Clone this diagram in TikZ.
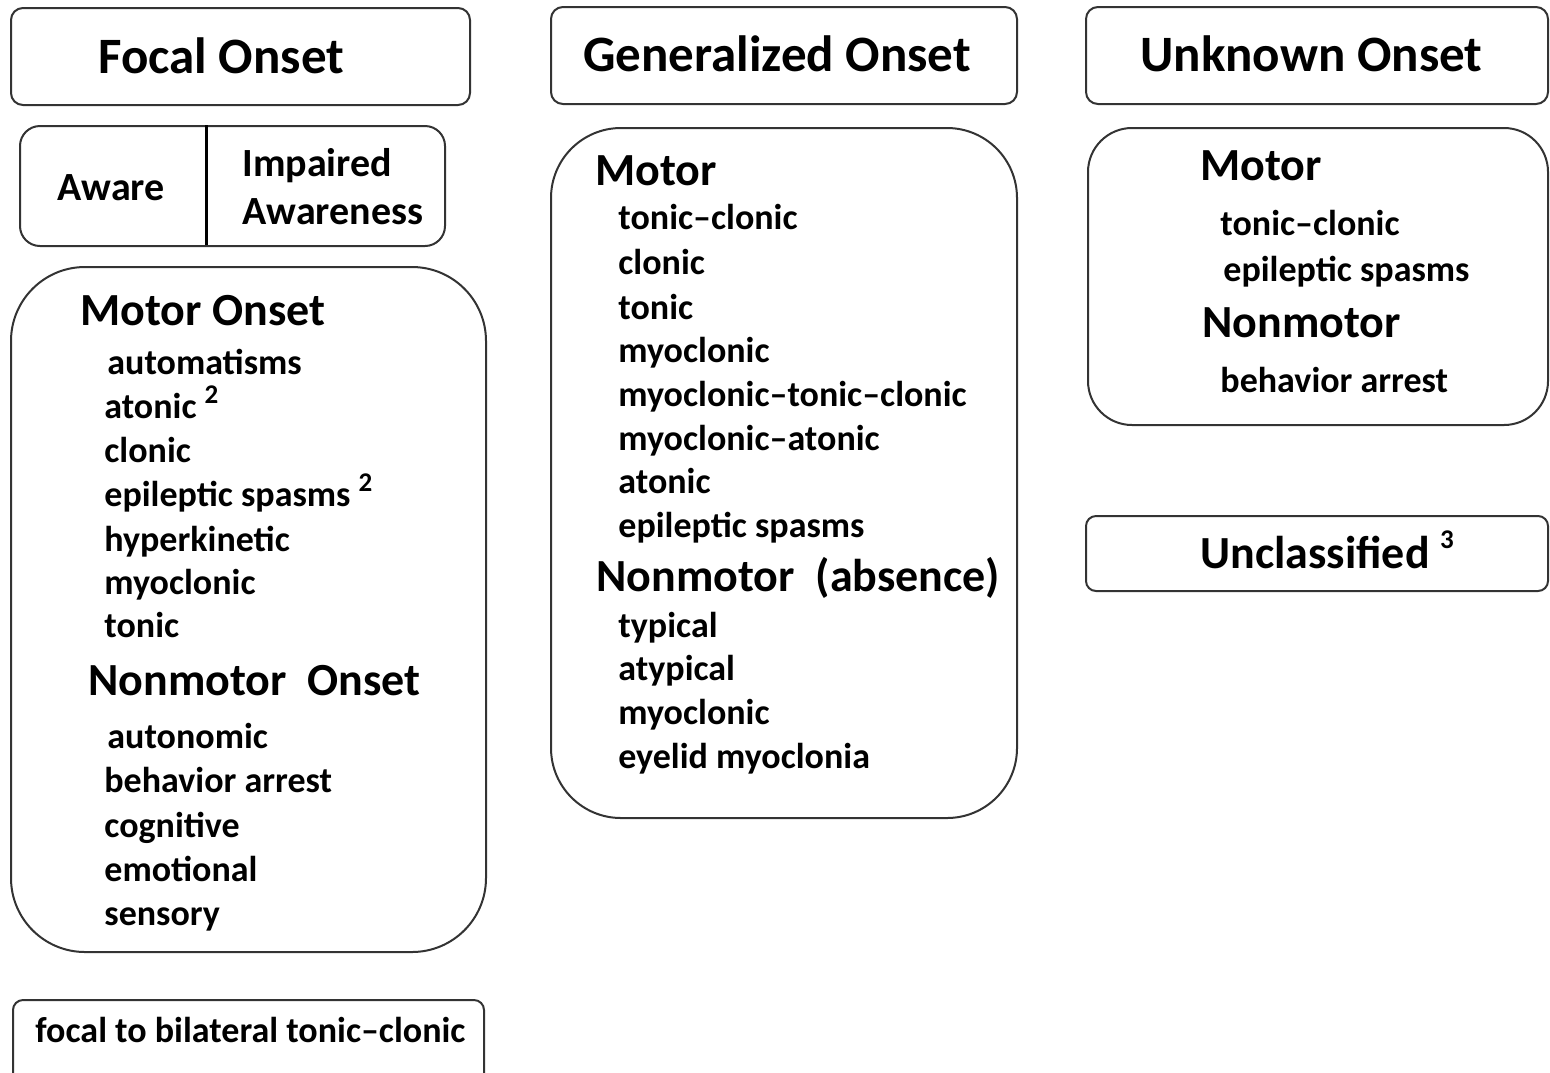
\documentclass[tikz,border=0pt]{standalone}
\usepackage{fontspec}
\setmainfont{Carlito}
\usetikzlibrary{fit,positioning}
\newcommand{\fnmark}[1]{\raisebox{0.42em}{\fontsize{13.5}{15}\selectfont #1}}
\tikzstyle{box} = [draw=black!80,
                  line width=1pt,
                  inner sep=0pt,
                  rounded corners=6pt]
\tikzstyle{head} = [anchor=west,
                   inner sep=0pt,
                   text height=16.5pt,
                   text depth=0pt,
                   font=\fontsize{25.5}{30}\selectfont\bfseries]
\tikzstyle{sub} = [head,
                  text height=15pt,
                  font=\fontsize{23}{27}\selectfont\bfseries]
\tikzstyle{aware} = [head,
                    text height=13pt,
                    font=\fontsize{20}{24}\selectfont\bfseries]
\tikzstyle{item} = [head,
                   text height=11.7pt,
                   font=\fontsize{18}{22}\selectfont\bfseries]
\tikzstyle{chart} = [x=0.5pt,
                    y=-0.5pt]

\begin{document}
\begin{tikzpicture}[chart]
    \useasboundingbox (0,0) rectangle (1550,1072);
    \clip (0,0) rectangle (1550,1072);
    % focal onset
    \node (fb) [box, fit={(11,8) (470,105)}] {};
    \node (ft) [head] at (98,57) {Focal Onset};
    \node (ab) [box, rounded corners=10pt, fit={(20,126) (445,246)}] {};
    \draw[line width=1.5pt] (ab.north west) ++(187,0) -- ++(0,120);
    \node (aw) [aware] at (57,187) {Aware};
    \node (ia) [aware] at (242,163) {Impaired};
    \node (ib) [aware] at (242,211) {Awareness};
    \node (mb) [box, rounded corners=37pt, fit={(11,267) (486,952)}] {};
    \node (m0) [sub] at (80,310) {Motor Onset};
    \node (m1) [item] at (107,363) {automatisms};
    \node (m2) [item] at (104,407) {atonic \fnmark{2}};
    \node (m3) [item] at (104,451) {clonic};
    \node (m4) [item] at (104,495) {epileptic spasms \fnmark{2}};
    \node (m5) [item] at (104,540) {hyperkinetic};
    \node (m6) [item] at (104,583) {myoclonic};
    \node (m7) [item] at (104,626) {tonic};
    \node (n0) [sub] at (88,680) {Nonmotor\ \ Onset};
    \node (n1) [item] at (107,737) {autonomic};
    \node (n2) [item] at (104,781) {behavior arrest};
    \node (n3) [item] at (104,826) {cognitive};
    \node (n4) [item] at (104,870) {emotional};
    \node (n5) [item] at (104,914) {sensory};
    \node (bb) [box, rounded corners=5pt, fit={(13,1000) (484,1110)}] {};
    \node (bt) [item] at (35,1031) {focal to bilateral tonic--clonic};
    % generalized onset
    \node (gb) [box, fit={(551,7) (1017,104)}] {};
    \node (gt) [head] at (583,55) {Generalized Onset};
    \node (gm) [box, rounded corners=35pt, fit={(551,128) (1017,818)}] {};
    \node (g0) [sub] at (595,170) {Motor};
    \node (g1) [item] at (618,218) {tonic--clonic};
    \node (g2) [item] at (618,263) {clonic};
    \node (g3) [item] at (618,308) {tonic};
    \node (g4) [item] at (618,351) {myoclonic};
    \node (g5) [item] at (618,395) {myoclonic--tonic--clonic};
    \node (g6) [item] at (618,439) {myoclonic--atonic};
    \node (g7) [item] at (618,482) {atonic};
    \node (g8) [item] at (618,526) {epileptic spasms};
    \node (h0) [sub] at (596,576) {Nonmotor\ \ (absence)};
    \node (h1) [item] at (618,626) {typical};
    \node (h2) [item] at (618,669) {atypical};
    \node (h3) [item] at (618,713) {myoclonic};
    \node (h4) [item] at (618,757) {eyelid myoclonia};
    % unknown onset
    \node (ub) [box, fit={(1086,7) (1548,104)}] {};
    \node (ut) [head] at (1140,55) {Unknown Onset};
    \node (um) [box, rounded corners=22pt, fit={(1088,128) (1548,425)}] {};
    \node (u0) [sub] at (1200,165) {Motor};
    \node (u1) [item] at (1220,224) {tonic--clonic};
    \node (u2) [item] at (1223,270) {epileptic spasms};
    \node (v0) [sub] at (1202,322) {Nonmotor};
    \node (v1) [item] at (1220,381) {behavior arrest};
    \node (cb) [box, rounded corners=5pt, fit={(1086,516) (1548,591)}] {};
    \node (ct) [sub] at (1200,553) {Unclassified \fnmark{3}};
\end{tikzpicture}
\end{document}
